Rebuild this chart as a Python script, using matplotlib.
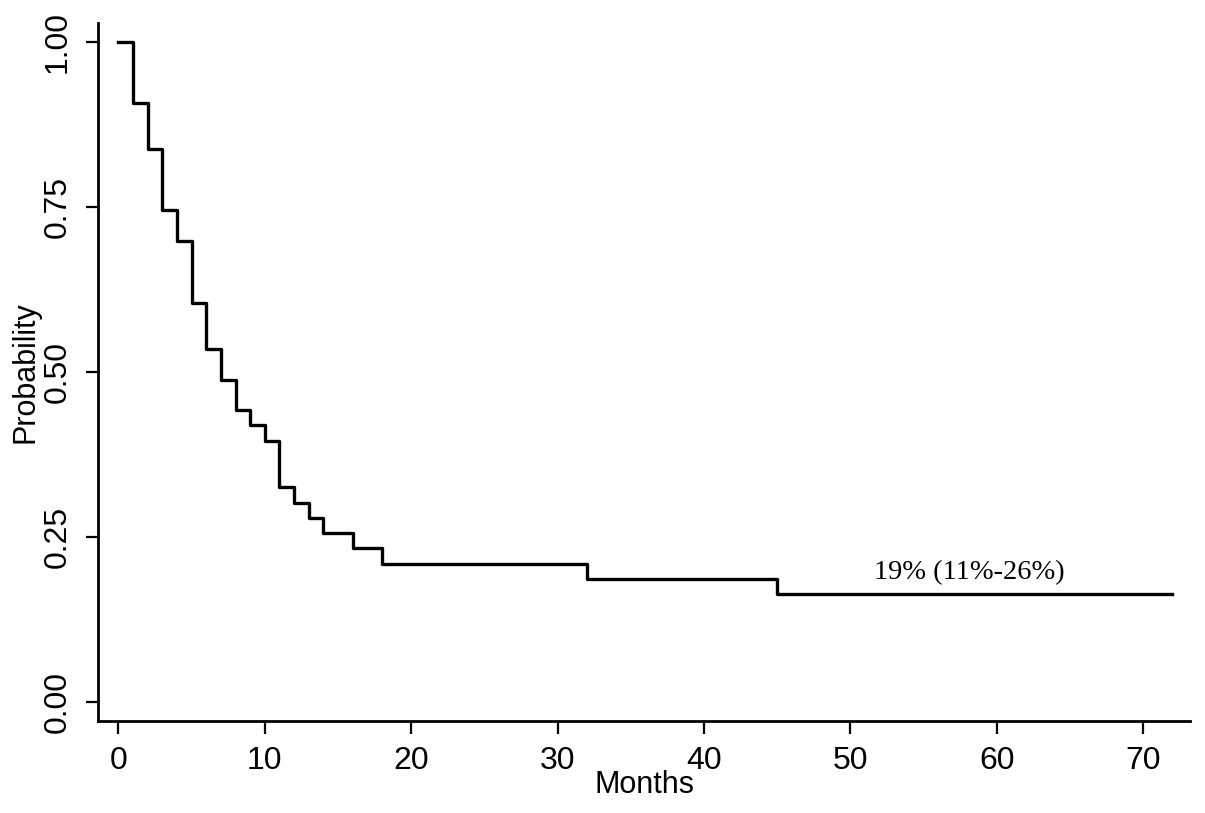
import matplotlib
matplotlib.use("Agg")
import matplotlib.pyplot as plt

# Kaplan-Meier estimate
months = [0, 1, 2, 3, 4, 5, 6, 7, 8, 9, 10, 11, 12, 13, 14, 16, 18, 32, 45, 72]
prob = [1.000, 0.907, 0.838, 0.745, 0.698, 0.605, 0.535, 0.488, 0.442, 0.419,
        0.395, 0.326, 0.302, 0.279, 0.256, 0.233, 0.209, 0.186, 0.163, 0.163]

x_ticks = [0, 10, 20, 30, 40, 50, 60, 70]
y_ticks = [0.00, 0.25, 0.50, 0.75, 1.00]
y_tick_labels = ["0.00", "0.25", "0.50", "0.75", "1.00"]
note = "19% (11%-26%)"

plt.rcParams['font.family'] = ['Liberation Sans', 'DejaVu Sans']

fig = plt.figure(figsize=(12.05, 8.13), dpi=100)
ax = fig.add_axes([0.0813, 0.1132, 0.9063, 0.8585])

ax.step(months, prob, where='post', color='black', linewidth=2.4)

ax.set_xlim(-1.4, 73.2)
ax.set_ylim(-0.029, 1.029)
ax.set_xticks(x_ticks)
ax.set_yticks(y_ticks)
ax.set_yticklabels(y_tick_labels, rotation=90, va='center')

for side in ['top', 'right']:
    ax.spines[side].set_visible(False)
for side in ['left', 'bottom']:
    ax.spines[side].set_linewidth(2.0)

ax.tick_params(axis='both', direction='out', length=9, width=1.6,
               labelsize=23, pad=9)

ax.set_xlabel("Months", fontsize=22, labelpad=-4)
ax.set_ylabel("Probability", fontsize=22, labelpad=2)

ax.text(58.1, 0.177, note, ha='center', va='bottom', fontsize=20.5,
        family=['Liberation Serif', 'DejaVu Serif'])

fig.savefig("out.png", dpi=100)
